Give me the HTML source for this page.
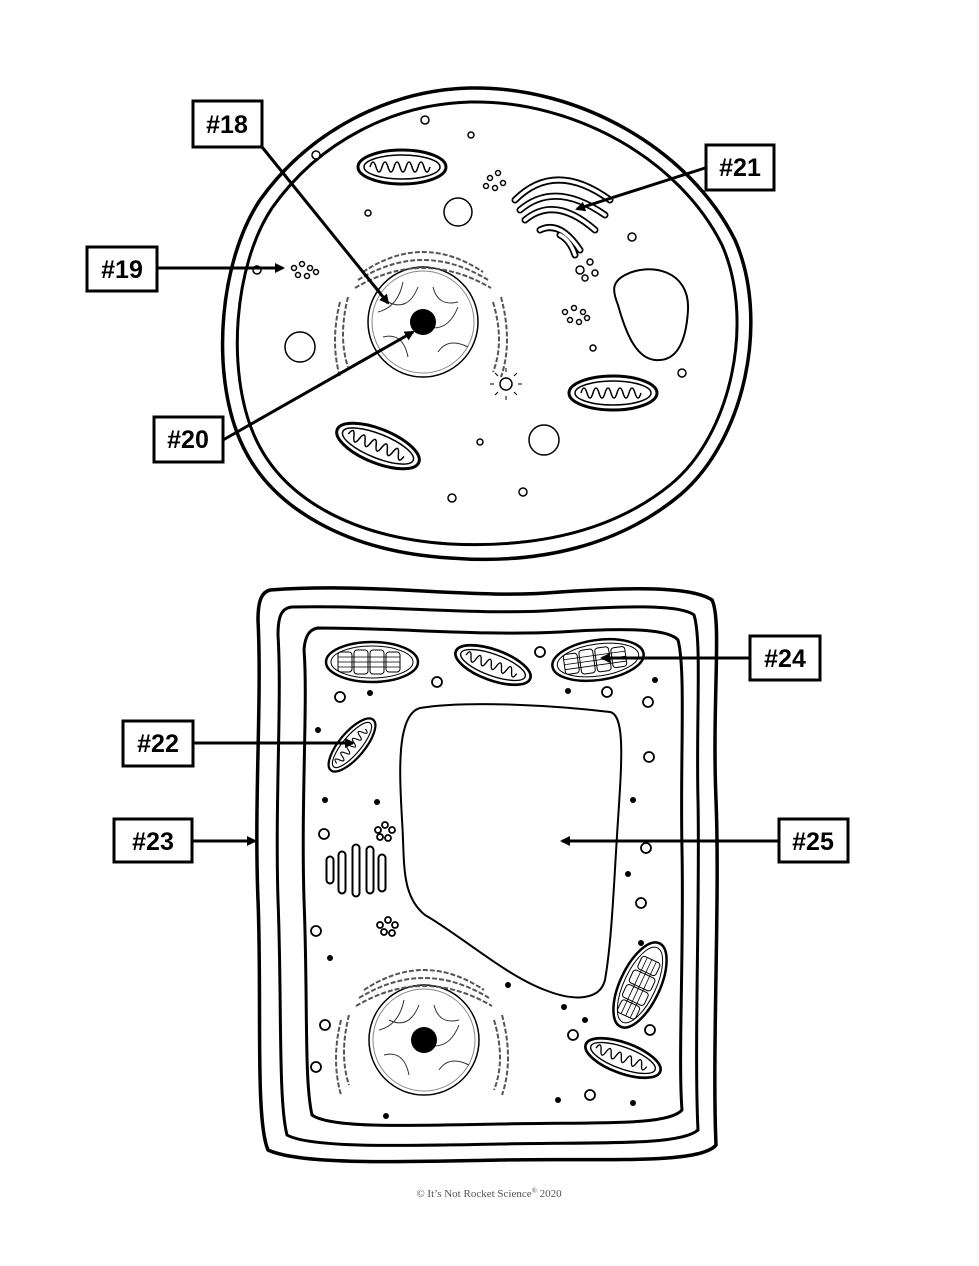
<!DOCTYPE html>
<html><head><meta charset="utf-8"><style>
html,body{margin:0;padding:0;background:#fff}
svg{display:block}
.lb{font-family:"Liberation Sans",sans-serif;font-weight:bold;font-size:25px}
</style></head><body>
<svg width="979" height="1266" viewBox="0 0 979 1266" xmlns="http://www.w3.org/2000/svg">
<defs>
<marker id="ah" markerWidth="10" markerHeight="10" refX="8" refY="5" orient="auto" markerUnits="userSpaceOnUse">
<path d="M0,0 L10,5 L0,10 z" fill="#000"/></marker>
<g id="mito">
<ellipse cx="0" cy="0" rx="44" ry="17" fill="#fff" stroke="#000" stroke-width="3"/>
<ellipse cx="0" cy="0" rx="38" ry="12" fill="none" stroke="#000" stroke-width="1.5"/>
<path d="M-32,0 q3,-10 6,0 q3,10 6,0 q3,-10 6,0 q3,10 6,0 q3,-10 6,0 q3,10 6,0 q3,-10 6,0 q3,10 6,0 q3,-10 6,0 q3,10 6,0" fill="none" stroke="#000" stroke-width="1.5"/>
</g>
<g id="chloro">
<ellipse cx="0" cy="0" rx="46" ry="20" fill="#fff" stroke="#000" stroke-width="2.5"/>
<ellipse cx="0" cy="0" rx="41" ry="16" fill="none" stroke="#000" stroke-width="1"/>
<g fill="#fff" stroke="#000" stroke-width="1">
<rect x="-34" y="-10" width="14" height="20" rx="3"/><rect x="-18" y="-12" width="14" height="24" rx="3"/><rect x="-2" y="-12" width="14" height="24" rx="3"/><rect x="14" y="-10" width="14" height="20" rx="3"/></g>
<path d="M-34,-5h62M-34,0h62M-34,5h62" stroke="#000" stroke-width="0.8"/>
</g>
<g id="nuc">
<circle cx="0" cy="0" r="55" fill="#fff" stroke="#000" stroke-width="1.5"/>
<circle cx="0" cy="0" r="51" fill="none" stroke="#888" stroke-width="1"/>
<path d="M-35,-20 q20,10 30,-15 M10,-35 q5,20 25,15 M-40,15 q20,-5 25,20 M15,30 q10,-15 30,-5 M-20,-40 q-5,25 -25,30 M5,5 q20,5 30,-20" fill="none" stroke="#333" stroke-width="1"/>
<circle cx="0" cy="0" r="13" fill="#000"/>
<path d="M-60,-50 q60,-40 120,0 M-65,-42 q65,-40 130,0 M-68,-34 q68,-40 136,0 M-75,-25 q-10,40 0,70 M-83,-20 q-10,40 0,75 M70,-20 q12,40 0,70 M78,-25 q12,45 0,80" fill="none" stroke="#555" stroke-width="2" stroke-dasharray="5,2"/>
</g>
</defs>

<!-- Animal cell -->
<path d="M470,88 C580,86 690,150 735,240 C770,320 745,440 680,495 C620,545 540,565 450,558 C350,552 270,510 240,440 C210,370 220,260 260,200 C310,130 390,90 470,88 Z" fill="#fff" stroke="#000" stroke-width="3.5"/>
<path d="M470,102 C575,100 680,160 722,245 C755,320 732,435 670,485 C612,532 535,548 450,544 C355,538 282,500 254,435 C226,370 234,265 272,208 C320,140 395,104 470,102 Z" fill="none" stroke="#000" stroke-width="3"/>
<use href="#mito" transform="translate(402 167)"/>
<use href="#mito" transform="translate(613 393)"/>
<use href="#mito" transform="translate(378 446) rotate(22)"/>
<use href="#nuc" transform="translate(423 322)"/>
<path d="M515,200 q40,-40 95,0 M520,210 q35,-30 85,5 M525,220 q30,-25 70,10 M540,230 q20,-10 40,20 M560,235 q10,5 15,20" fill="none" stroke="#000" stroke-width="7" stroke-linecap="round"/>
<path d="M515,200 q40,-40 95,0 M520,210 q35,-30 85,5 M525,220 q30,-25 70,10 M540,230 q20,-10 40,20 M560,235 q10,5 15,20" fill="none" stroke="#fff" stroke-width="3.5" stroke-linecap="round"/>
<path d="M625,275 C650,262 690,270 688,310 C686,345 675,362 655,360 C635,358 625,330 618,305 C612,290 612,282 625,275 Z" fill="#fff" stroke="#000" stroke-width="2"/>
<g fill="#fff" stroke="#000" stroke-width="1.5">
<circle cx="458" cy="212" r="14"/><circle cx="300" cy="347" r="15"/><circle cx="544" cy="440" r="15"/>
<circle cx="425" cy="120" r="4"/><circle cx="316" cy="155" r="4"/><circle cx="632" cy="237" r="4"/><circle cx="682" cy="373" r="4"/><circle cx="452" cy="498" r="4"/><circle cx="523" cy="492" r="4"/><circle cx="257" cy="270" r="4"/><circle cx="480" cy="442" r="3"/><circle cx="368" cy="213" r="3"/><circle cx="471" cy="135" r="3"/><circle cx="593" cy="348" r="3"/>
<circle cx="294" cy="268" r="2.5"/><circle cx="302" cy="264" r="2.5"/><circle cx="310" cy="268" r="2.5"/><circle cx="298" cy="275" r="2.5"/><circle cx="307" cy="276" r="2.5"/><circle cx="316" cy="272" r="2.5"/>
<circle cx="490" cy="178" r="2.5"/><circle cx="498" cy="173" r="2.5"/><circle cx="486" cy="186" r="2.5"/><circle cx="495" cy="188" r="2.5"/><circle cx="503" cy="183" r="2.5"/>
<circle cx="565" cy="312" r="2.5"/><circle cx="574" cy="308" r="2.5"/><circle cx="583" cy="312" r="2.5"/><circle cx="570" cy="320" r="2.5"/><circle cx="579" cy="322" r="2.5"/><circle cx="587" cy="318" r="2.5"/>
<circle cx="580" cy="270" r="4"/><circle cx="590" cy="262" r="3"/><circle cx="585" cy="278" r="3"/><circle cx="595" cy="273" r="3"/>
<circle cx="506" cy="384" r="6"/>
</g>
<path d="M506,372v-4M506,396v4M494,384h-4M518,384h4M498,376l-3,-3M514,376l3,-3M498,392l-3,3M514,392l3,3" stroke="#000" stroke-width="1"/>

<!-- Plant cell -->
<path d="M270,590 C380,582 470,600 560,592 C620,588 690,585 712,600 C722,620 712,700 716,800 C720,900 712,1050 716,1145 C700,1165 600,1158 500,1160 C400,1162 300,1165 268,1150 C255,1120 262,1000 258,900 C254,800 262,700 258,620 C258,600 262,592 270,590 Z" fill="#fff" stroke="#000" stroke-width="3.5"/>
<path d="M292,607 C390,605 480,616 560,610 C620,606 680,604 694,615 C702,640 696,720 698,800 C700,900 694,1050 698,1130 C680,1146 600,1142 500,1144 C400,1146 310,1148 287,1135 C278,1100 282,1000 278,900 C275,800 282,700 278,635 C278,615 282,608 292,607 Z" fill="none" stroke="#000" stroke-width="3"/>
<path d="M318,628 C400,628 480,636 560,632 C620,628 668,628 678,640 C686,670 680,760 682,850 C684,950 678,1060 682,1110 C668,1126 600,1122 500,1124 C400,1126 330,1128 312,1115 C304,1080 308,1000 304,900 C301,800 308,700 304,650 C305,635 310,629 318,628 Z" fill="none" stroke="#000" stroke-width="3"/>
<path d="M420,708 C470,700 560,706 610,712 C625,715 622,760 618,820 C614,880 612,940 605,980 C600,1000 575,1002 545,990 C505,975 460,935 425,915 C400,895 405,860 402,820 C400,780 395,715 420,708 Z" fill="#fff" stroke="#000" stroke-width="2"/>
<use href="#chloro" transform="translate(372 662)"/>
<use href="#chloro" transform="translate(598 660) rotate(-8)"/>
<use href="#chloro" transform="translate(640 985) rotate(-65)"/>
<use href="#mito" transform="translate(493 665) rotate(20) scale(0.9)"/>
<use href="#mito" transform="translate(352 745) rotate(-50) scale(0.75)"/>
<use href="#mito" transform="translate(623 1058) rotate(20) scale(0.9)"/>
<use href="#nuc" transform="translate(424 1040)"/>
<path d="M330,860 v20 M342,855 v35 M356,848 v45 M370,850 v40 M382,858 v30" stroke="#000" stroke-width="9" stroke-linecap="round"/>
<path d="M330,860 v20 M342,855 v35 M356,848 v45 M370,850 v40 M382,858 v30" stroke="#fff" stroke-width="5" stroke-linecap="round"/>
<g fill="#fff" stroke="#000" stroke-width="1.8">
<circle cx="340" cy="697" r="5"/><circle cx="437" cy="682" r="5"/><circle cx="540" cy="652" r="5"/><circle cx="607" cy="692" r="5"/><circle cx="648" cy="702" r="5"/><circle cx="649" cy="757" r="5"/><circle cx="324" cy="834" r="5"/><circle cx="646" cy="848" r="5"/><circle cx="641" cy="903" r="5"/><circle cx="316" cy="931" r="5"/><circle cx="650" cy="1030" r="5"/><circle cx="573" cy="1035" r="5"/><circle cx="316" cy="1067" r="5"/><circle cx="325" cy="1025" r="5"/><circle cx="590" cy="1095" r="5"/>
<circle cx="378" cy="830" r="3"/><circle cx="385" cy="825" r="3"/><circle cx="392" cy="830" r="3"/><circle cx="380" cy="837" r="3"/><circle cx="388" cy="838" r="3"/>
<circle cx="380" cy="925" r="3"/><circle cx="388" cy="920" r="3"/><circle cx="395" cy="925" r="3"/><circle cx="384" cy="932" r="3"/><circle cx="392" cy="933" r="3"/>
</g>
<g fill="#000">
<circle cx="370" cy="693" r="3"/><circle cx="568" cy="691" r="3"/><circle cx="655" cy="680" r="3"/><circle cx="318" cy="730" r="3"/><circle cx="377" cy="802" r="3"/><circle cx="325" cy="800" r="3"/><circle cx="633" cy="800" r="3"/><circle cx="628" cy="874" r="3"/><circle cx="330" cy="958" r="3"/><circle cx="508" cy="985" r="3"/><circle cx="564" cy="1007" r="3"/><circle cx="585" cy="1020" r="3"/><circle cx="633" cy="1103" r="3"/><circle cx="558" cy="1100" r="3"/><circle cx="386" cy="1116" r="3"/><circle cx="641" cy="943" r="3"/>
</g>

<!-- Arrows -->
<g stroke="#000" stroke-width="3" marker-end="url(#ah)">
<line x1="262" y1="147" x2="388" y2="303"/>
<line x1="157" y1="268" x2="283" y2="268"/>
<line x1="223" y1="440" x2="413" y2="332"/>
<line x1="705" y1="168" x2="577" y2="209"/>
<line x1="193" y1="743" x2="353" y2="743"/>
<line x1="192" y1="841" x2="255" y2="841"/>
<line x1="749" y1="658" x2="602" y2="658"/>
<line x1="778" y1="841" x2="562" y2="841"/>
</g>

<!-- Labels -->
<g fill="#fff" stroke="#000" stroke-width="3">
<rect x="193" y="101" width="69" height="46"/>
<rect x="87" y="247" width="70" height="44"/>
<rect x="154" y="417" width="69" height="45"/>
<rect x="706" y="145" width="68" height="45"/>
<rect x="123" y="721" width="70" height="45"/>
<rect x="114" y="819" width="78" height="43"/>
<rect x="750" y="636" width="70" height="44"/>
<rect x="779" y="819" width="69" height="43"/>
</g>
<g class="lb" text-anchor="middle">
<text x="227" y="133">#18</text>
<text x="122" y="278">#19</text>
<text x="188" y="448">#20</text>
<text x="740" y="176">#21</text>
<text x="158" y="752">#22</text>
<text x="153" y="850">#23</text>
<text x="785" y="667">#24</text>
<text x="813" y="850">#25</text>
</g>
<text x="489" y="1197" text-anchor="middle" font-family="Liberation Serif, serif" font-size="11" fill="#555">© It’s Not Rocket Science<tspan font-size="7" dy="-4">®</tspan><tspan dy="4"> 2020</tspan></text>
</svg>
</body></html>
